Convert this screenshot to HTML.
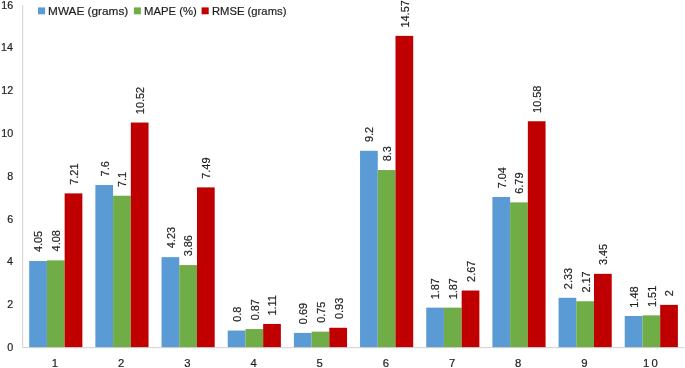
<!DOCTYPE html>
<html><head><meta charset="utf-8"><style>
html,body{margin:0;padding:0;background:#fff;width:685px;height:368px;overflow:hidden}
svg{display:block;will-change:transform}
text{font-family:"Liberation Sans",sans-serif;fill:#1e1e1e;stroke:#1e1e1e;stroke-width:0.2px}
.dl{font-size:10.9px}
.xl{font-size:11.3px}
.yl{font-size:10.7px}
.lg{font-size:11.7px}
</style></head><body>
<svg width="685" height="368" viewBox="0 0 685 368">
<line x1="22.69" y1="5.27" x2="22.69" y2="347.67" stroke="#D0D0D0" stroke-width="1"/>
<rect x="29.20" y="261.00" width="17.72" height="86.67" fill="#5B9BD5"/>
<rect x="46.92" y="260.36" width="17.72" height="87.31" fill="#70AD47"/>
<rect x="64.64" y="193.38" width="17.72" height="154.29" fill="#C00000"/>
<rect x="95.37" y="185.03" width="17.72" height="162.64" fill="#5B9BD5"/>
<rect x="113.09" y="195.73" width="17.72" height="151.94" fill="#70AD47"/>
<rect x="130.81" y="122.54" width="17.72" height="225.13" fill="#C00000"/>
<rect x="161.54" y="257.15" width="17.72" height="90.52" fill="#5B9BD5"/>
<rect x="179.26" y="265.07" width="17.72" height="82.60" fill="#70AD47"/>
<rect x="196.98" y="187.38" width="17.72" height="160.29" fill="#C00000"/>
<rect x="227.71" y="330.55" width="17.72" height="17.12" fill="#5B9BD5"/>
<rect x="245.43" y="329.05" width="17.72" height="18.62" fill="#70AD47"/>
<rect x="263.15" y="323.92" width="17.72" height="23.75" fill="#C00000"/>
<rect x="293.88" y="332.90" width="17.72" height="14.77" fill="#5B9BD5"/>
<rect x="311.60" y="331.62" width="17.72" height="16.05" fill="#70AD47"/>
<rect x="329.32" y="327.77" width="17.72" height="19.90" fill="#C00000"/>
<rect x="360.05" y="150.79" width="17.72" height="196.88" fill="#5B9BD5"/>
<rect x="377.77" y="170.05" width="17.72" height="177.62" fill="#70AD47"/>
<rect x="395.49" y="35.87" width="17.72" height="311.80" fill="#C00000"/>
<rect x="426.22" y="307.65" width="17.72" height="40.02" fill="#5B9BD5"/>
<rect x="443.94" y="307.65" width="17.72" height="40.02" fill="#70AD47"/>
<rect x="461.66" y="290.53" width="17.72" height="57.14" fill="#C00000"/>
<rect x="492.39" y="197.01" width="17.72" height="150.66" fill="#5B9BD5"/>
<rect x="510.11" y="202.36" width="17.72" height="145.31" fill="#70AD47"/>
<rect x="527.83" y="121.26" width="17.72" height="226.41" fill="#C00000"/>
<rect x="558.56" y="297.81" width="17.72" height="49.86" fill="#5B9BD5"/>
<rect x="576.28" y="301.23" width="17.72" height="46.44" fill="#70AD47"/>
<rect x="594.00" y="273.84" width="17.72" height="73.83" fill="#C00000"/>
<rect x="624.73" y="316.00" width="17.72" height="31.67" fill="#5B9BD5"/>
<rect x="642.45" y="315.36" width="17.72" height="32.31" fill="#70AD47"/>
<rect x="660.17" y="304.87" width="17.72" height="42.80" fill="#C00000"/>
<line x1="22.69" y1="347.67" x2="684.40" y2="347.67" stroke="#D0D0D0" stroke-width="1"/>
<text class="dl" transform="translate(42.41,252.05) rotate(-90)">4.05</text>
<text class="dl" transform="translate(60.13,251.41) rotate(-90)">4.08</text>
<text class="dl" transform="translate(77.91,184.73) rotate(-90)">7.21</text>
<text class="dl" transform="translate(108.58,176.39) rotate(-90)">7.6</text>
<text class="dl" transform="translate(126.30,187.09) rotate(-90)">7.1</text>
<text class="dl" transform="translate(144.02,114.17) rotate(-90)">10.52</text>
<text class="dl" transform="translate(174.75,248.20) rotate(-90)">4.23</text>
<text class="dl" transform="translate(192.47,256.28) rotate(-90)">3.86</text>
<text class="dl" transform="translate(210.19,178.74) rotate(-90)">7.49</text>
<text class="dl" transform="translate(240.92,321.78) rotate(-90)">0.8</text>
<text class="dl" transform="translate(258.64,320.28) rotate(-90)">0.87</text>
<text class="dl" transform="translate(276.36,315.55) rotate(-90)">1.11</text>
<text class="dl" transform="translate(307.09,324.13) rotate(-90)">0.69</text>
<text class="dl" transform="translate(324.81,322.85) rotate(-90)">0.75</text>
<text class="dl" transform="translate(342.53,318.99) rotate(-90)">0.93</text>
<text class="dl" transform="translate(373.26,142.10) rotate(-90)">9.2</text>
<text class="dl" transform="translate(390.98,161.32) rotate(-90)">8.3</text>
<text class="dl" transform="translate(408.65,27.50) rotate(-90)">14.57</text>
<text class="dl" transform="translate(439.43,299.28) rotate(-90)">1.87</text>
<text class="dl" transform="translate(457.15,299.28) rotate(-90)">1.87</text>
<text class="dl" transform="translate(474.87,281.88) rotate(-90)">2.67</text>
<text class="dl" transform="translate(505.60,188.37) rotate(-90)">7.04</text>
<text class="dl" transform="translate(523.32,193.72) rotate(-90)">6.79</text>
<text class="dl" transform="translate(541.04,112.89) rotate(-90)">10.58</text>
<text class="dl" transform="translate(571.77,289.16) rotate(-90)">2.33</text>
<text class="dl" transform="translate(589.55,292.58) rotate(-90)">2.17</text>
<text class="dl" transform="translate(607.21,265.06) rotate(-90)">3.45</text>
<text class="dl" transform="translate(637.94,307.63) rotate(-90)">1.48</text>
<text class="dl" transform="translate(655.61,306.99) rotate(-90)">1.51</text>
<text class="dl" transform="translate(673.44,296.22) rotate(-90)">2</text>
<text class="xl" x="51.73" y="366.70">1</text>
<text class="xl" x="118.06" y="366.70">2</text>
<text class="xl" x="184.26" y="366.70">3</text>
<text class="xl" x="250.43" y="366.70">4</text>
<text class="xl" x="316.58" y="366.70">5</text>
<text class="xl" x="382.70" y="366.70">6</text>
<text class="xl" x="448.90" y="366.70">7</text>
<text class="xl" x="515.08" y="366.70">8</text>
<text class="xl" x="581.25" y="366.70">9</text>
<text class="xl" x="643.02" y="366.70" letter-spacing="2.1">10</text>
<text class="yl" x="7.17" y="350.95">0</text>
<text class="yl" x="7.29" y="308.21">2</text>
<text class="yl" x="7.06" y="265.35">4</text>
<text class="yl" x="7.22" y="222.55">6</text>
<text class="yl" x="7.21" y="179.75">8</text>
<text class="yl" x="1.22" y="136.95">10</text>
<text class="yl" x="1.34" y="94.21">12</text>
<text class="yl" x="1.11" y="51.35">14</text>
<text class="yl" x="1.27" y="8.55">16</text>
<rect x="38.0" y="7.4" width="7.10" height="6.9" fill="#5B9BD5"/>
<text class="lg" x="48.11" y="14.5" textLength="80.12" lengthAdjust="spacingAndGlyphs">MWAE (grams)</text>
<rect x="133.9" y="7.4" width="7.00" height="6.9" fill="#70AD47"/>
<text class="lg" x="144.07" y="14.5" textLength="52.73" lengthAdjust="spacingAndGlyphs">MAPE (%)</text>
<rect x="201.6" y="7.4" width="7.10" height="6.9" fill="#C00000"/>
<text class="lg" x="211.98" y="14.5" textLength="74.42" lengthAdjust="spacingAndGlyphs">RMSE (grams)</text>
</svg>
</body></html>
